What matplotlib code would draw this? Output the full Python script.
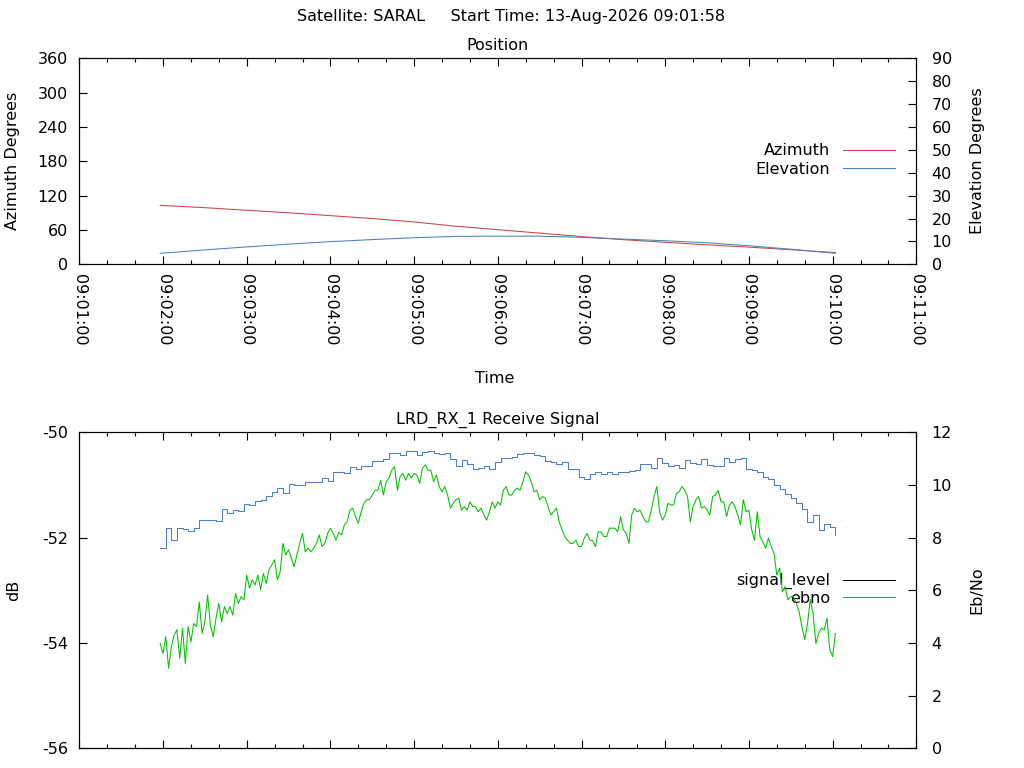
import matplotlib
matplotlib.use('Agg')
import matplotlib.pyplot as plt
import matplotlib.dates as mdates
from matplotlib.lines import Line2D
import numpy as np
import pandas as pd

plt.rcParams['axes.unicode_minus'] = False

# ---- data ----
PASS_DATE = '2026-08-13'
X_START = '09:01:00'
X_END = '09:11:00'

pos_times = ['09:01:58', '09:02:30', '09:03:00', '09:03:30', '09:04:00', '09:04:30',
             '09:05:00', '09:05:30', '09:06:00', '09:06:30', '09:07:00', '09:07:30',
             '09:08:00', '09:08:30', '09:09:00', '09:09:30', '09:10:02']
azimuth = [103.0, 99.0, 94.4, 90.0, 85.0, 80.0, 74.0, 66.5, 60.5, 54.5, 48.5, 43.0,
           38.5, 34.0, 30.0, 25.5, 20.5]
elevation = [4.8, 6.3, 7.6, 8.8, 9.9, 10.8, 11.6, 12.2, 12.3, 12.3, 11.8, 11.0,
             10.3, 9.4, 8.1, 6.6, 4.8]

# receive signal, sampled every 2 s from the start of the pass
signal_start = '09:01:58'
signal_step_s = 2
signal_level = [
    -54.01, -54.20, -53.88, -54.48, -54.07, -53.85, -53.75, -54.29, -53.72, -54.39,
    -53.69, -53.98, -53.63, -53.69, -53.22, -53.82, -53.60, -53.09, -53.66, -53.88,
    -53.53, -53.25, -53.60, -53.31, -53.44, -53.31, -53.47, -53.06, -53.25, -53.12,
    -53.18, -52.71, -52.96, -52.80, -52.90, -52.71, -52.99, -52.68, -52.87, -52.61,
    -52.52, -52.42, -52.80, -52.65, -52.11, -52.33, -52.23, -52.39, -52.55, -52.33,
    -52.11, -51.92, -52.27, -52.20, -52.27, -52.20, -52.11, -51.95, -52.17, -52.11,
    -51.92,
    -51.82, -51.92, -52.05, -51.90, -51.95, -51.76, -51.70, -51.48, -51.44, -51.60,
    -51.73, -51.51, -51.35, -51.28, -51.28, -51.19, -51.10, -51.10, -50.91, -51.19,
    -50.94, -50.87, -50.72, -50.65, -51.10, -50.84, -50.78, -50.91, -50.78, -50.87,
    -50.78, -50.81, -50.97, -50.68, -50.62, -50.72, -50.72, -50.94, -50.81, -51.03,
    -51.13, -51.03, -51.19, -51.44, -51.35, -51.28, -51.25, -51.48, -51.41, -51.48,
    -51.32, -51.41, -51.41, -51.51, -51.44, -51.57, -51.67, -51.51, -51.32, -51.44,
    -51.32,
    -51.38, -51.10, -51.03, -51.19, -51.19, -51.10, -51.06, -51.10, -50.94, -50.75,
    -50.81, -50.94, -51.13, -51.10, -51.28, -51.22, -51.25, -51.41, -51.57, -51.51,
    -51.44, -51.70, -51.85, -51.98, -52.05, -52.11, -52.11, -52.05, -52.17, -52.17,
    -52.01, -51.92, -52.05, -52.05, -52.17, -51.89, -51.89, -51.98, -51.98, -51.82,
    -51.82, -51.82, -51.89, -51.60, -51.85, -51.92, -52.11, -51.57, -51.44, -51.51,
    -51.48, -51.60, -51.70, -51.70, -51.48, -51.22, -51.03, -51.51, -51.67, -51.57,
    -51.35,
    -51.38, -51.38, -51.16, -51.13, -51.03, -51.10, -51.22, -51.70, -51.41, -51.28,
    -51.22, -51.44, -51.41, -51.48, -51.57, -51.22, -51.19, -51.10, -51.32, -51.32,
    -51.60, -51.38, -51.32, -51.41, -51.57, -51.76, -51.28, -51.51, -51.48, -51.85,
    -52.05, -51.51, -51.98, -52.08, -52.20, -52.01, -52.17, -52.30, -52.71, -52.58,
    -53.03, -52.93, -53.18, -53.12, -53.12, -53.25, -53.41, -53.69, -53.94, -53.63,
    -53.18, -53.44, -54.01, -53.82, -53.72, -53.75, -53.53, -54.13, -54.26, -53.82,
]

# Eb/No, sampled every 4 s from the start of the pass
ebno_step_s = 4
ebno = [
    7.59, 8.35, 7.91, 8.35, 8.32, 8.27, 8.35, 8.66, 8.67, 8.67,
    8.64, 9.10, 8.92, 9.05, 9.00, 9.28, 9.23, 9.40, 9.43, 9.59,
    9.72, 9.90, 9.68, 10.02, 10.00, 10.00, 10.11, 10.10, 10.10, 10.25,
    10.16,
    10.50, 10.50, 10.44, 10.70, 10.59, 10.72, 10.72, 10.92, 10.90, 10.97,
    11.20, 11.20, 11.14, 11.30, 11.30, 11.14, 11.25, 11.30, 11.20, 11.18,
    11.20, 10.97, 10.72, 10.95, 10.80, 10.59, 10.63, 10.72, 10.59, 10.88,
    11.01, 11.01, 11.05, 11.18, 11.20, 11.20, 11.15, 11.10, 10.92, 10.87,
    10.80, 10.88, 10.59, 10.59, 10.32, 10.24, 10.42, 10.51, 10.42, 10.51,
    10.42, 10.51, 10.51, 10.53, 10.57, 10.80, 10.80, 10.63, 11.01, 10.82,
    10.73,
    10.76, 10.63, 10.95, 10.85, 10.80, 10.97, 10.76, 10.72, 10.72, 11.01,
    10.88, 10.97, 11.01, 10.59, 10.57, 10.51, 10.29, 10.21, 10.00, 9.84,
    9.66, 9.49, 9.30, 9.07, 8.61, 8.86, 8.29, 8.52, 8.39, 8.10,
]

AZ_COLOR = '#c84444'
EL_COLOR = '#4a7fc4'
SIG_COLOR = '#00c000'
FONT = 11.5
LW = 0.75

W, H = 1024, 768


def fx(x):
    return x / W


def fy(y):
    return 1 - y / H


def stamp(s):
    return pd.Timestamp(PASS_DATE + ' ' + s)


def style_time_axis(ax, ax2):
    ax.set_xlim(stamp(X_START), stamp(X_END))
    ax.xaxis.set_major_locator(mdates.MinuteLocator())
    ax.xaxis.set_minor_locator(mdates.SecondLocator(bysecond=[20, 40]))
    ax.xaxis.set_major_formatter(mdates.DateFormatter('%H:%M:%S'))
    ax.tick_params(axis='x', which='both', direction='in', top=True, bottom=True,
                   labelsize=FONT, pad=7, labelrotation=270)
    ax.tick_params(axis='x', which='major', length=5.5, width=0.8)
    ax.tick_params(axis='x', which='minor', length=3, width=0.8)
    ax.tick_params(axis='y', which='major', direction='in', left=True, right=False,
                   length=5.5, width=0.8, labelsize=FONT, pad=8)
    ax2.tick_params(axis='y', which='major', direction='in', left=False, right=True,
                    length=5.5, width=0.8, labelsize=FONT, pad=11)
    for a in (ax, ax2):
        for sp in a.spines.values():
            sp.set_linewidth(0.8)
            sp.set_color('black')


fig = plt.figure(figsize=(W / 100, H / 100), dpi=100)
left, width = fx(79.3), fx(916.3 - 79.3)

# ---- position panel ----
ax_pos = fig.add_axes([left, fy(264.3), width, 206 / H])
ax_el = ax_pos.twinx()
pt = [stamp(s) for s in pos_times]
ax_pos.plot(pt, azimuth, color=AZ_COLOR, lw=LW)
ax_el.plot(pt, elevation, color=EL_COLOR, lw=LW)
ax_pos.set_ylim(0, 360)
ax_pos.set_yticks(np.arange(0, 361, 60))
ax_el.set_ylim(0, 90)
ax_el.set_yticks(np.arange(0, 91, 10))
style_time_axis(ax_pos, ax_el)

ax_el.legend([Line2D([], [], color=AZ_COLOR, lw=LW), Line2D([], [], color=EL_COLOR, lw=LW)],
             ['Azimuth', 'Elevation'], loc='center right', bbox_to_anchor=(0.975, 0.506),
             frameon=False, markerfirst=False, handlelength=3.3, handletextpad=0.8,
             labelspacing=0.22, borderpad=0, borderaxespad=0, fontsize=FONT)

# ---- receive signal panel ----
ax_sig = fig.add_axes([left, fy(748.3), width, 316 / H])
ax_eb = ax_sig.twinx()
t0 = stamp(signal_start)
sig_t = t0 + pd.to_timedelta(np.arange(len(signal_level)) * signal_step_s, unit='s')
eb_t = t0 + pd.to_timedelta(np.arange(len(ebno)) * ebno_step_s, unit='s')
ax_sig.plot(sig_t, signal_level, color=SIG_COLOR, lw=LW, zorder=3)
ax_eb.plot(eb_t, ebno, color=EL_COLOR, lw=LW, drawstyle='steps-post')
ax_sig.set_ylim(-56, -50)
ax_sig.set_yticks(np.arange(-56, -49, 2))
ax_eb.set_ylim(0, 12)
ax_eb.set_yticks(np.arange(0, 13, 2))
style_time_axis(ax_sig, ax_eb)
ax_sig.tick_params(axis='x', which='both', labelbottom=False)

leg = ax_sig.legend([Line2D([], [], color='black', lw=LW), Line2D([], [], color=EL_COLOR, lw=LW)],
                    ['signal_level', 'ebno'], loc='center right', bbox_to_anchor=(0.975, 0.5025),
                    frameon=False, markerfirst=False, handlelength=3.3, handletextpad=0.8,
                    labelspacing=0.1, borderpad=0, borderaxespad=0, fontsize=FONT)
leg.set_zorder(1)

# ---- texts ----
fig.text(fx(511.5), fy(17), 'Satellite: SARAL     Start Time: 13-Aug-2026 09:01:58',
         ha='center', va='center', fontsize=FONT)
fig.text(fx(497.8), fy(46), 'Position', ha='center', va='center', fontsize=FONT)
fig.text(fx(495), fy(379), 'Time', ha='center', va='center', fontsize=FONT)
fig.text(fx(497.8), fy(420), 'LRD_RX_1 Receive Signal', ha='center', va='center', fontsize=FONT)
fig.text(fx(13), fy(161.3), 'Azimuth Degrees', rotation=90, ha='center', va='center', fontsize=FONT)
fig.text(fx(977.3), fy(160.5), 'Elevation Degrees', rotation=90, ha='center', va='center', fontsize=FONT)
fig.text(fx(13.5), fy(590), 'dB', rotation=90, ha='center', va='center', fontsize=FONT)
fig.text(fx(977.3), fy(590), 'Eb/No', rotation=90, ha='center', va='center', fontsize=FONT)

fig.savefig('out.png', dpi=100)
